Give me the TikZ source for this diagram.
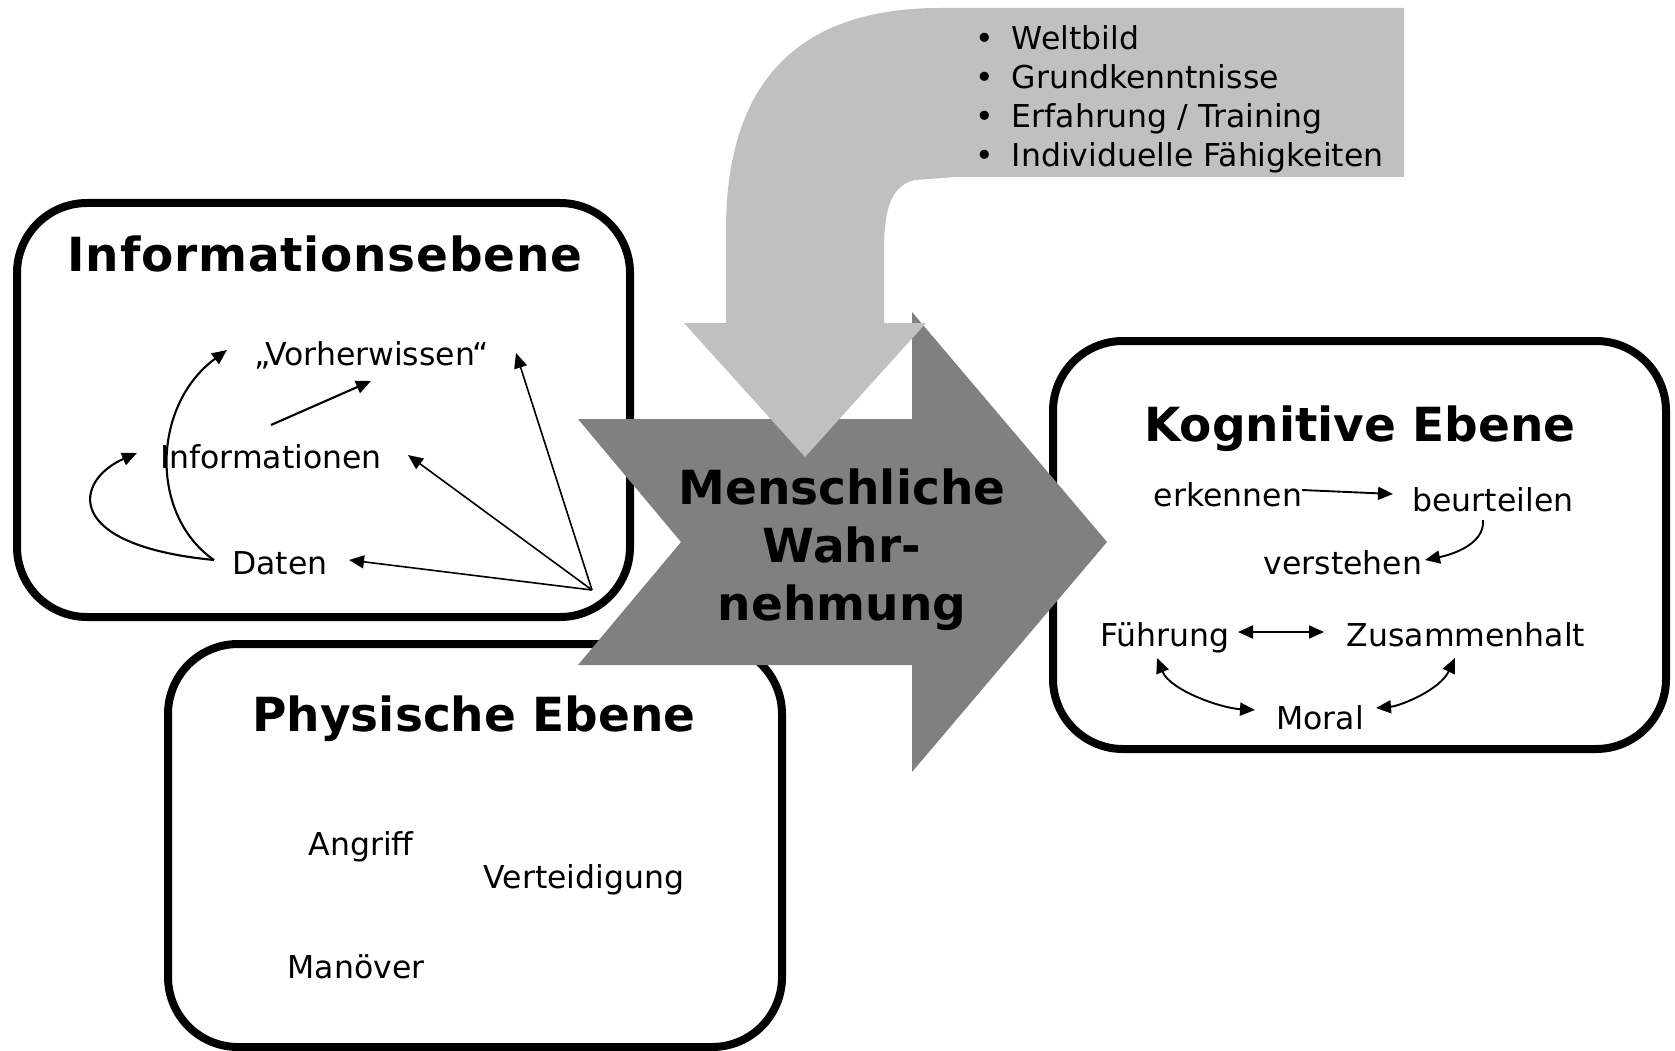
\documentclass[tikz,border=0pt]{standalone}
\usepackage{fontspec}
\setmainfont{DejaVu Sans}
\usetikzlibrary{arrows.meta,calc}
\definecolor{bodygray}{HTML}{808080}
\definecolor{priorgray}{HTML}{C0C0C0}
\newcommand{\txtsize}{\fontsize{31.5}{38.7}\selectfont}
\newcommand{\headsize}{\fontsize{47}{58}\selectfont\bfseries}
\begin{document}
\begin{tikzpicture}[x=1pt,y=-1pt,
  panel/.style={draw=black, line width=8pt, fill=white, rounded corners=70pt, inner sep=0pt},
  lbl/.style={font=\txtsize, inner sep=0pt, anchor=base},
  ttl/.style={font=\headsize, inner sep=0pt, anchor=base},
  onetip/.style={-{Triangle[length=15pt,width=13pt]}},
  twotips/.style={{Triangle[length=15pt,width=13pt]}-{Triangle[length=15pt,width=13pt]}},
  thinline/.style={onetip, line width=1.6pt},
  arcline/.style={onetip, line width=2.1pt},
  kline/.style={onetip, line width=1.9pt},
  kboth/.style={twotips, line width=1.9pt},
]
\useasboundingbox (0,0) rectangle (1675,1051);
\fill[white] (0,0) rectangle (1675,1051);

% the three panels
\node[panel, minimum width=613pt, minimum height=414pt] (infopanel) at (323.5,410) {};
\node[panel, minimum width=614pt, minimum height=403pt] (physpanel) at (475,845.5) {};
\node[panel, minimum width=613pt, minimum height=408pt] (cogpanel) at (1359.5,545) {};

% information level
\node[ttl] (infotitle) at (325,271) {\addfontfeatures{LetterSpace=1.6}Informationsebene};
\node[lbl] (vor) at (372,365) {„Vorherwissen“};
\node[lbl] (inf) at (271,468) {Informationen};
\node[lbl] (dat) at (280,574) {Daten};
\coordinate (fan) at (592,590);

\draw[arcline] ($(dat.base)+(-66,-14)$) .. controls +(-65,-45) and +(-75,55) .. ($(vor.base)+(-145,-15)$);
\draw[arcline] ($(dat.base)+(-66,-14)$) .. controls +(-154,-15) and +(-62,27) .. ($(inf.base)+(-134,-15)$);
\draw[arcline] ($(inf.base)+(0,-43)$) -- ($(vor.base)+(-1,16)$);
\draw[thinline] (fan) -- ($(dat.base)+(69,-14)$);
\draw[thinline] (fan) -- ($(inf.base)+(137,-13)$);
\draw[thinline] (fan) -- ($(vor.base)+(144,-12)$);

% physical level
\node[ttl] (phystitle) at (474,731) {Physische Ebene};
\node[lbl] (angriff) at (361,855) {Angriff};
\node[lbl] (verteid) at (584,888) {Verteidigung};
\node[lbl] (manoever) at (356,978) {Manöver};

% perception arrow
\fill[bodygray] (578,419) -- (912,419) -- (912,312) -- (1107,542) -- (912,772)
  -- (912,665) -- (578,665) -- (681,542) -- cycle;

% bent arrow of prior knowledge
\fill[priorgray] (955,8) -- (1404,8) -- (1404,177) -- (955,177) -- (915,180)
  .. controls (893,185) and (884,205) .. (884,250) -- (884,323) -- (926,323)
  -- (805,457) -- (684,323) -- (726,323) -- (726,230)
  .. controls (726,80) and (800,8) .. (940,8) -- cycle;

\node[ttl] (percept) at (842,504) {\begin{tabular}[t]{@{}c@{}}Menschliche\\Wahr-\\nehmung\end{tabular}};

\node[lbl, anchor=base west] (prior) at (975,50) {\begin{tabular}[t]{@{}c@{\hspace{18pt}}l@{}}•&Weltbild\\•&Grundkenntnisse\\•&Erfahrung / Training\\•&Individuelle Fähigkeiten\end{tabular}};

% cognitive level
\node[ttl] (cogtitle) at (1360,441) {Kognitive Ebene};
\node[lbl] (erk) at (1228,506) {erkennen};
\node[lbl] (beu) at (1493,511) {beurteilen};
\node[lbl] (ver) at (1343,574) {verstehen};
\node[lbl] (fuh) at (1165,646) {Führung};
\node[lbl] (zus) at (1466,646) {Zusammenhalt};
\node[lbl] (mor) at (1320,729) {Moral};

\draw[kline] ($(erk.base)+(74,-16)$) -- ($(beu.base)+(-100,-17)$);
\draw[kline] ($(beu.base)+(-10,9)$) .. controls +(2,25) and +(25,-5) .. ($(ver.base)+(82,-14)$);
\draw[kboth] ($(fuh.base)+(73,-14)$) -- ($(zus.base)+(-142,-14)$);
\draw[kboth] ($(fuh.base)+(-8,12)$) .. controls +(13,32) and +(-35,-2) .. ($(mor.base)+(-65,-19)$);
\draw[kboth] ($(zus.base)+(-11,12)$) .. controls +(-15,32) and +(24,-2) .. ($(mor.base)+(56,-21)$);
\end{tikzpicture}
\end{document}
